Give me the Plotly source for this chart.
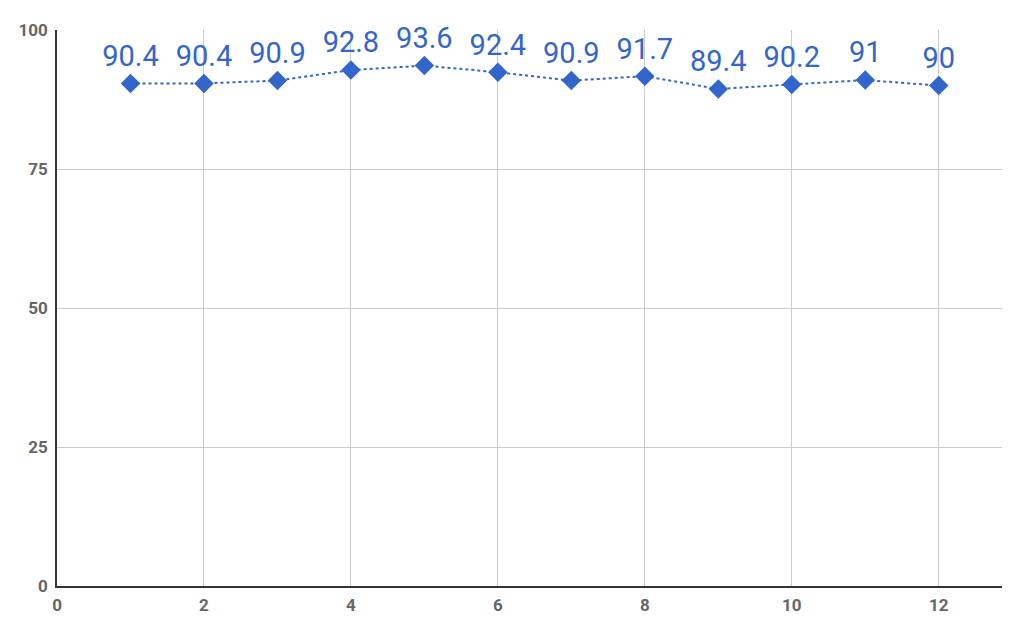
import plotly.graph_objects as go

months = [1, 2, 3, 4, 5, 6, 7, 8, 9, 10, 11, 12]
values = [90.4, 90.4, 90.9, 92.8, 93.6, 92.4, 90.9, 91.7, 89.4, 90.2, 91, 90]
labels = ["90.4", "90.4", "90.9", "92.8", "93.6", "92.4", "90.9", "91.7", "89.4", "90.2", "91", "90"]

blue = "#3366cc"

fig = go.Figure()
fig.add_trace(go.Scatter(
    x=months, y=values, mode="lines+markers+text",
    text=labels, textposition="top center",
    textfont=dict(family="Roboto", size=29, color=blue),
    line=dict(color=blue, width=2, dash="dot"),
    marker=dict(symbol="diamond", size=15, color=blue),
    cliponaxis=False, showlegend=False,
))

fig.update_layout(
    width=1002, height=630,
    margin=dict(l=49, r=0, t=22, b=52),
    paper_bgcolor="white", plot_bgcolor="white",
    font=dict(family="Roboto"),
)
fig.update_xaxes(
    range=[0, 12.97], tickmode="array", tickvals=[0, 2, 4, 6, 8, 10, 12],
    showgrid=True, gridcolor="#cccccc", gridwidth=1,
    showline=True, linecolor="#333333", linewidth=1.5,
    zeroline=False, ticks="", ticklabelstandoff=3,
    tickfont=dict(family="Roboto", size=17, color="#666666", weight="bold"),
)
fig.update_yaxes(
    range=[0, 100], tickmode="array", tickvals=[0, 25, 50, 75, 100],
    showgrid=True, gridcolor="#cccccc", gridwidth=1,
    showline=True, linecolor="#333333", linewidth=1.5,
    zeroline=False, ticks="", ticklabelstandoff=4,
    tickfont=dict(family="Roboto", size=17, color="#666666", weight="bold"),
)

fig.write_html("out.html")
